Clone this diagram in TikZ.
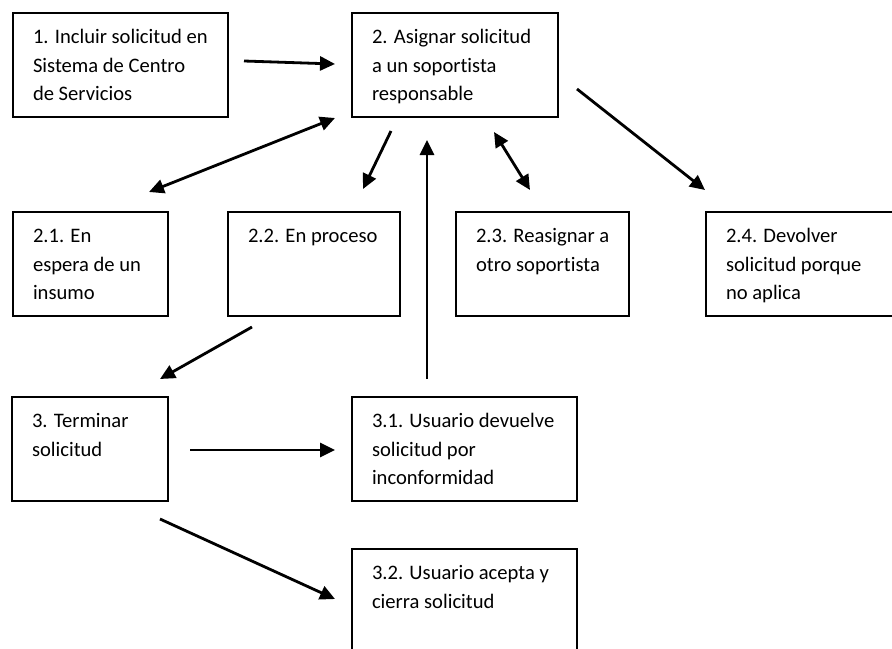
\documentclass[tikz,border=0pt]{standalone}
\usepackage{fontspec}
\setmainfont{Carlito}[Ligatures=NoCommon]
\usepackage{tikz}
\usetikzlibrary{
  arrows.meta,
  calc
}
\definecolor{Ink}{HTML}{000000}
\newcommand{\stagetext}[2]{\hspace*{10pt}\parbox[t][41pt][t]{#1}{\raggedright\strut#2}}

\begin{document}
\begin{tikzpicture}[
  x=0.5pt,
  y=-0.5pt,
  font=\fontsize{10.3}{14.25}\selectfont,
  >={Triangle[length=7.5pt,width=7pt]},
  stage/.style={
    draw=Ink,
    line width=1pt,
    anchor=north west,
    inner xsep=0pt,
    inner ysep=5.5pt,
    text=Ink
  },
  flow/.style={->,draw=Ink,line width=1.4pt},
  twoway/.style={<->,draw=Ink,line width=1.4pt}
]
\useasboundingbox (0,0) rectangle (892,648);

\node[stage] (include) at (12,12)
  {\stagetext{97.5pt}{1. Incluir solicitud en\\Sistema de Centro\\de Servicios}};
\node[stage] (assign) at (351,12)
  {\stagetext{93pt}{2. Asignar solicitud\\a un soportista\\responsable}};
\node[stage] (waiting) at (12,211)
  {\stagetext{67.5pt}{2.1. En\\espera de un\\insumo}};
\node[stage] (process) at (227,211)
  {\stagetext{76pt}{2.2. En proceso}};
\node[stage] (reassign) at (455,211)
  {\stagetext{76.5pt}{2.3. Reasignar a\\otro soportista}};
\node[stage] (giveback) at (705,211)
  {\stagetext{92pt}{2.4. Devolver\\solicitud porque\\no aplica}};
\node[stage] (finish) at (11,396)
  {\stagetext{68pt}{3. Terminar\\solicitud}};
\node[stage] (rejected) at (351,396)
  {\stagetext{102.5pt}{3.1. Usuario devuelve\\solicitud por\\inconformidad}};
\node[stage] (accepted) at (351,548)
  {\stagetext{102.5pt}{3.2. Usuario acepta y\\cierra solicitud}};

\draw[flow] ($(include.east)+(15,-4)$) -- ($(assign.west)+(-16,-1)$);
\draw[twoway] ($(waiting.north east)+(-20,-19)$) -- ($(assign.south west)+(-16,0)$);
\draw[flow] ($(assign.south west)+(40,13)$) -- ($(process.north east)+(-38,-22)$);
\draw[flow] ($(rejected.north west)+(76,-17)$) -- ($(assign.south west)+(76,22)$);
\draw[twoway] ($(assign.south)+(39,14)$) -- ($(reassign.north west)+(75,-21)$);
\draw[flow] ($(assign.east)+(18,24)$) -- ($(giveback.north west)+(0,-21)$);
\draw[flow] ($(process.south west)+(25,10)$) -- ($(finish.north east)+(-9,-17)$);
\draw[flow] ($(finish.east)+(21,1)$) -- ($(rejected.west)+(-16,1)$);
\draw[flow] ($(finish.south east)+(-9,17)$) -- ($(accepted.west)+(-16,-2)$);
\end{tikzpicture}
\end{document}
